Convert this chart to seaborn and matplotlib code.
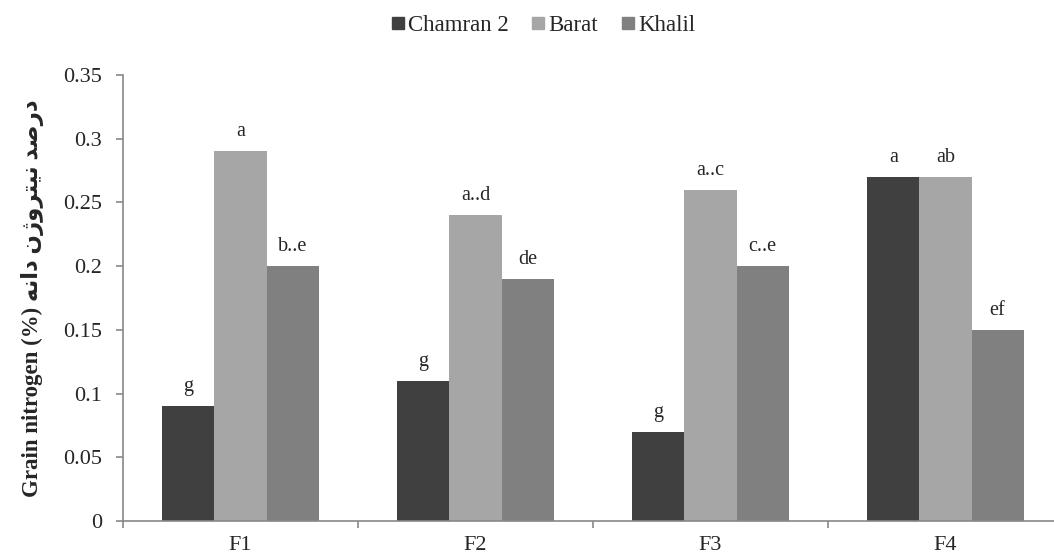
import seaborn as sns
import matplotlib.pyplot as plt
import pandas as pd
from matplotlib.ticker import FuncFormatter, FixedLocator
from matplotlib.lines import Line2D

treatments = ['F1', 'F2', 'F3', 'F4']
cultivars = ['Chamran 2', 'Barat', 'Khalil']
chamran = [0.09, 0.11, 0.07, 0.27]
barat = [0.29, 0.24, 0.26, 0.27]
khalil = [0.20, 0.19, 0.20, 0.15]
letters_chamran = ['g', 'g', 'g', 'a']
letters_barat = ['a', 'a..d', 'a..c', 'ab']
letters_khalil = ['b..e', 'de', 'c..e', 'ef']
colors = ['#404040', '#a6a6a6', '#808080']
y_ticks = [0, 0.05, 0.1, 0.15, 0.2, 0.25, 0.3, 0.35]

# persian part of the label, written in visual order with presentation forms
# since matplotlib does no arabic shaping: "درصد نیتروژن دانه"
fa_label = ('\uFEEA\uFEE7\uFE8D\uFEA9' + ' ' +
            '\uFEE5\uFB8A\uFEED\uFEAE\uFE98\uFBFF\uFEE7' + ' ' +
            '\uFEAA\uFEBB\uFEAD\uFEA9')

df = pd.DataFrame({
  'treatment': treatments * 3,
  'cultivar': [c for c in cultivars for _ in treatments],
  'nitrogen': chamran + barat + khalil,
  'letter': letters_chamran + letters_barat + letters_khalil,
})

sns.set_style('white')
plt.rcParams['font.family'] = ['Liberation Serif', 'DejaVu Sans']

fig = plt.figure(figsize=(10.54, 5.58), dpi=100)
ax = fig.add_axes([123 / 1054, 37 / 558, 940 / 1054, 446 / 558])

sns.barplot(
  data = df, x = 'treatment', y = 'nitrogen', hue = 'cultivar',
  order = treatments, hue_order = cultivars, palette = colors,
  width = 0.664, gap = 0, saturation = 1, linewidth = 0, legend = False, ax = ax
)

# significance letters above the bars
for container, cultivar in zip(ax.containers, cultivars):
  sub = df[df['cultivar'] == cultivar]
  for bar, letter in zip(container, sub['letter']):
    ax.annotate(letter, (bar.get_x() + bar.get_width() / 2, bar.get_height()),
                xytext = (0, 10.8), textcoords = 'offset points',
                ha = 'center', va = 'baseline', fontsize = 14.5)

ax.set_xlim(-0.5, 3.5)
ax.set_ylim(0, 0.35)
ax.yaxis.set_major_locator(FixedLocator(y_ticks))
ax.yaxis.set_major_formatter(FuncFormatter(lambda v, p: f'{v:g}'))
ax.xaxis.set_minor_locator(FixedLocator([-0.5, 0.5, 1.5, 2.5, 3.5]))

axis_grey = '#888888'
for side in ['top', 'right']:
  ax.spines[side].set_visible(False)
for side in ['left', 'bottom']:
  ax.spines[side].set_color(axis_grey)
  ax.spines[side].set_linewidth(1.2)

ax.tick_params(axis = 'y', which = 'major', direction = 'out', length = 5, width = 1.2,
               color = axis_grey, labelsize = 16, left = True, pad = 10)
ax.tick_params(axis = 'x', which = 'major', length = 0, labelsize = 16, pad = 11)
ax.tick_params(axis = 'x', which = 'minor', direction = 'out', length = 5, width = 1.2,
               color = axis_grey, bottom = True)

ax.set_xlabel('')
ax.set_ylabel('Grain nitrogen (%) ' + fa_label, fontsize = 16.5, fontweight = 'bold', labelpad = 14)

handles = [Line2D([], [], marker = 's', linestyle = '', color = c, markersize = 8) for c in colors]
fig.legend(handles, cultivars, loc = 'center', bbox_to_anchor = (542 / 1054, 1 - 25 / 558),
           ncol = 3, frameon = False, fontsize = 16.5, handletextpad = 0.05,
           columnspacing = 0.9, handlelength = 0.8)

fig.savefig('out.png', dpi = 100)
